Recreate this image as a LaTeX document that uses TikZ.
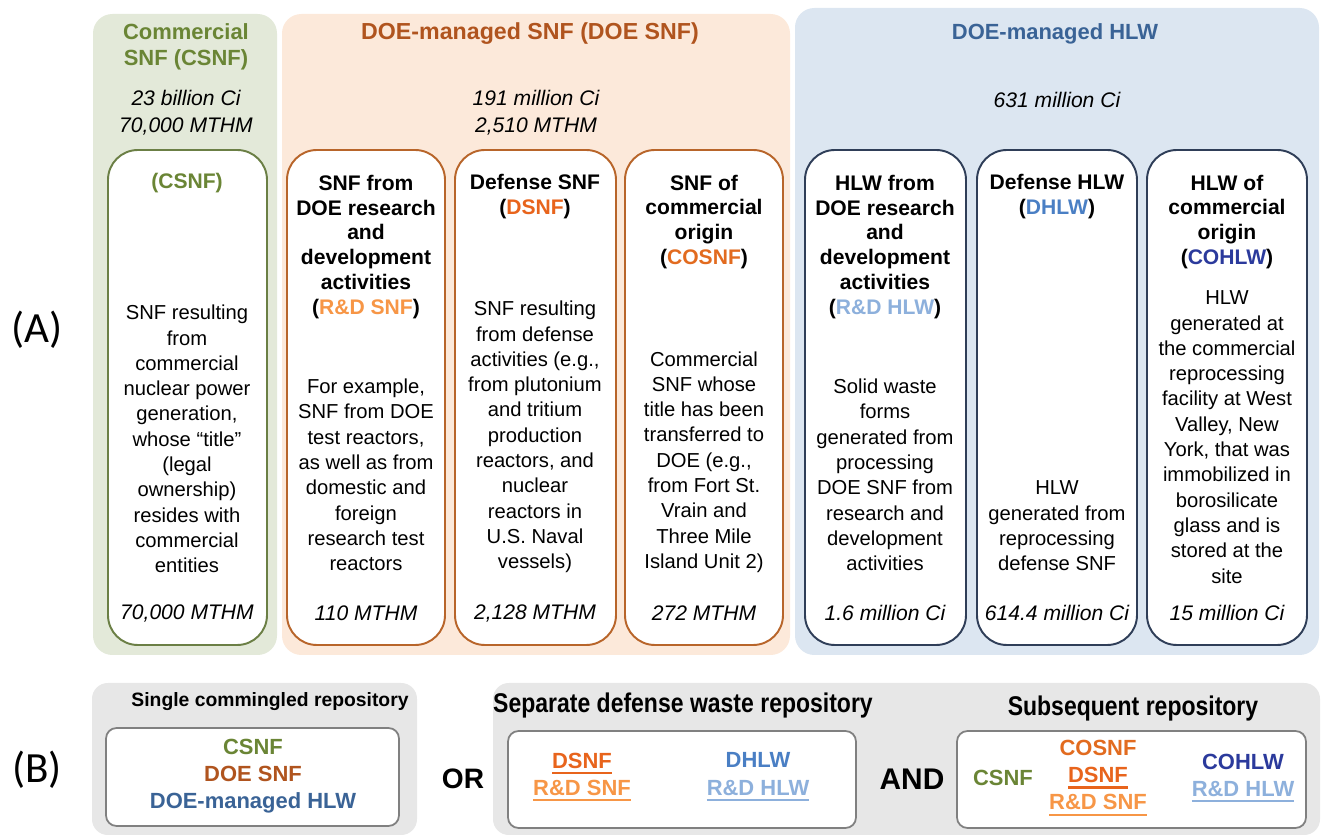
\documentclass[tikz,border=0pt]{standalone}
\usepackage{fontspec}
\setmainfont{Liberation Sans}
\newfontfamily\calibrifont{Carlito}
\newfontfamily\narrowfont[FakeStretch=0.85]{Liberation Sans}
\usetikzlibrary{positioning}

\definecolor{csnfbg}{HTML}{E3E9D9}
\definecolor{doebg}{HTML}{FCE9DA}
\definecolor{hlwbg}{HTML}{DCE6F1}
\definecolor{graybg}{HTML}{E7E7E7}
\definecolor{csnfgreen}{HTML}{6A8535}
\definecolor{csnfline}{HTML}{6B7F45}
\definecolor{doebrown}{HTML}{B0541E}
\definecolor{doeline}{HTML}{B8652A}
\definecolor{dsnf}{HTML}{E8641C}
\definecolor{rdsnf}{HTML}{F79646}
\definecolor{cosnf}{HTML}{E26B1F}
\definecolor{hlwblue}{HTML}{3A6396}
\definecolor{hlwline}{HTML}{2F3E58}
\definecolor{dhlw}{HTML}{4A7FC4}
\definecolor{rdhlw}{HTML}{8DB0DC}
\definecolor{cohlw}{HTML}{2B3A9C}
\definecolor{boxgray}{HTML}{808080}

\newcommand\undl[1]{\setbox0\hbox{#1}\rlap{\rule[-3.4pt]{\wd0}{1.3pt}}\box0}

\begin{document}
\begin{tikzpicture}[x=0.02cm, y=-0.02cm,
    head/.style={font=\bfseries\fontsize{12.5}{14.8}\selectfont, align=center, inner sep=0pt},
    val/.style={font=\itshape\fontsize{12}{15.4}\selectfont, align=center, inner sep=0pt},
    card/.style={line width=1.1pt, fill=white, rounded corners=17pt},
    ttl/.style={font=\bfseries\fontsize{12}{14.2}\selectfont, align=center, inner sep=0pt},
    body/.style={font=\fontsize{11.5}{14.4}\selectfont, align=center, inner sep=0pt},
    amt/.style={font=\itshape\fontsize{12}{14}\selectfont, inner sep=0pt},
    tag/.style={font=\calibrifont\fontsize{24.5}{28}\selectfont, inner sep=0pt},
    repo/.style={font=\bfseries\fontsize{11}{13}\selectfont, inner sep=0pt},
    repowide/.style={font=\narrowfont\bfseries\fontsize{15.4}{17}\selectfont, inner sep=0pt},
    slot/.style={draw=boxgray, line width=1pt, fill=white, rounded corners=6pt},
    list/.style={font=\bfseries\fontsize{12.5}{15.5}\selectfont, align=center, inner sep=0pt}]
  \useasboundingbox (0,0) rectangle (1323,837);

  % panels
  \fill[csnfbg, rounded corners=11pt] (93,14) rectangle (277,655);
  \fill[doebg, rounded corners=11pt] (282,14) rectangle (790,655);
  \fill[hlwbg, rounded corners=11pt] (795,8) rectangle (1319,655);
  \fill[graybg, rounded corners=9pt] (92,683) rectangle (417,835);
  \fill[graybg, rounded corners=9pt] (493,683) rectangle (1320,835);

  \node[head, text=csnfgreen] (csnfhead) at (186,47) {Commercial\\SNF (CSNF)};
  \node[val] (csnfval) at (186,113) {23 billion Ci\\70,000 MTHM};
  \node[head, text=doebrown, font=\bfseries\fontsize{13.2}{15}\selectfont] (doehead) at (530,34) {DOE-managed SNF (DOE SNF)};
  \node[val] (doeval) at (536,113) {191 million Ci\\2,510 MTHM};
  \node[head, text=hlwblue] (hlwhead) at (1055,34) {DOE-managed HLW};
  \node[val] (hlwval) at (1057,100) {631 million Ci};

  \draw[card, draw=csnfline] (108,150) rectangle (267,645);
  \draw[card, draw=doeline] (287,150) rectangle (445,645);
  \draw[card, draw=doeline] (455,150) rectangle (616,645);
  \draw[card, draw=doeline] (625,150) rectangle (783,645);
  \draw[card, draw=hlwline] (805,150) rectangle (966,645);
  \draw[card, draw=hlwline] (977,150) rectangle (1137,645);
  \draw[card, draw=hlwline] (1147,150) rectangle (1307,645);

  \node[tag] (parta) at (37,330) {(A)};

  % commercial SNF
  \node[ttl, text=csnfgreen] (csnfttl) at (187,183) {(CSNF)};
  \node[body] (csnfbody) at (187,439) {SNF resulting\\from\\commercial\\nuclear power\\generation,\\whose “title”\\(legal\\ownership)\\resides with\\commercial\\entities};
  \node[amt] (csnfamt) at (187,613) {70,000 MTHM};

  % DOE SNF
  \node[ttl] (rdsnfttl) at (366,247) {SNF from\\DOE research\\and\\development\\activities\\({\color{rdsnf}R\&D SNF})};
  \node[body] (rdsnfbody) at (366,475) {For example,\\SNF from DOE\\test reactors,\\as well as from\\domestic and\\foreign\\research test\\reactors};
  \node[amt] (rdsnfamt) at (366,613) {110 MTHM};

  \node[ttl] (dsnfttl) at (535,197) {Defense SNF\\({\color{dsnf}DSNF})};
  \node[body] (dsnfbody) at (535,437) {SNF resulting\\from defense\\activities (e.g.,\\from plutonium\\and tritium\\production\\reactors, and\\nuclear\\reactors in\\U.S. Naval\\vessels)};
  \node[amt] (dsnfamt) at (535,613) {2,128 MTHM};

  \node[ttl] (cosnfttl) at (704,222) {SNF of\\commercial\\origin\\({\color{cosnf}COSNF})};
  \node[body] (cosnfbody) at (704,462) {Commercial\\SNF whose\\title has been\\transferred to\\DOE (e.g.,\\from Fort St.\\Vrain and\\Three Mile\\Island Unit 2)};
  \node[amt] (cosnfamt) at (704,613) {272 MTHM};

  % DOE-managed HLW
  \node[ttl] (rdhlwttl) at (885,247) {HLW from\\DOE research\\and\\development\\activities\\({\color{rdhlw}R\&D HLW})};
  \node[body] (rdhlwbody) at (885,475) {Solid waste\\forms\\generated from\\processing\\DOE SNF from\\research and\\development\\activities};
  \node[amt] (rdhlwamt) at (885,613) {1.6 million Ci};

  \node[ttl] (dhlwttl) at (1057,197) {Defense HLW\\({\color{dhlw}DHLW})};
  \node[body] (dhlwbody) at (1057,526) {HLW\\generated from\\reprocessing\\defense SNF};
  \node[amt] (dhlwamt) at (1057,613) {614.4 million Ci};

  \node[ttl] (cohlwttl) at (1227,222) {HLW of\\commercial\\origin\\({\color{cohlw}COHLW})};
  \node[body] (cohlwbody) at (1227,437) {HLW\\generated at\\the commercial\\reprocessing\\facility at West\\Valley, New\\York, that was\\immobilized in\\borosilicate\\glass and is\\stored at the\\site};
  \node[amt] (cohlwamt) at (1227,613) {15 million Ci};

  % repository options
  \node[tag] (partb) at (37,770) {(B)};
  \node[repo] (singlehead) at (270,702) {Single commingled repository};
  \draw[slot] (106,728) rectangle (399,826);
  \node[list] (singlelist) at (253,776) {{\color{csnfgreen}CSNF}\\{\color{doebrown}DOE SNF}\\{\color{hlwblue}DOE-managed HLW}};

  \node[font=\bfseries\fontsize{16}{18}\selectfont, inner sep=0pt] (orword) at (463,779) {OR};

  \node[repowide] (defhead) at (683,706) {Separate defense waste repository};
  \draw[slot] (508,731) rectangle (856,828);
  \node[list] (defsnf) at (582,777) {{\color{dsnf}\undl{DSNF}}\\{\color{rdsnf}\undl{R\&D SNF}}};
  \node[list] (defhlw) at (758,777) {{\color{dhlw}DHLW}\\{\color{rdhlw}\undl{R\&D HLW}}};

  \node[font=\bfseries\fontsize{17}{19}\selectfont, inner sep=0pt] (andword) at (912,779) {AND};

  \node[repowide] (nexthead) at (1133,709) {Subsequent repository};
  \draw[slot] (957,731) rectangle (1306,828);
  \node[list, text=csnfgreen] (nextcsnf) at (1003,778) {CSNF};
  \node[list] (nextsnf) at (1098,778) {{\color{cosnf}COSNF}\\{\color{dsnf}\undl{DSNF}}\\{\color{rdsnf}\undl{R\&D SNF}}};
  \node[list] (nexthlw) at (1243,778) {{\color{cohlw}COHLW}\\{\color{rdhlw}\undl{R\&D HLW}}};
\end{tikzpicture}
\end{document}
